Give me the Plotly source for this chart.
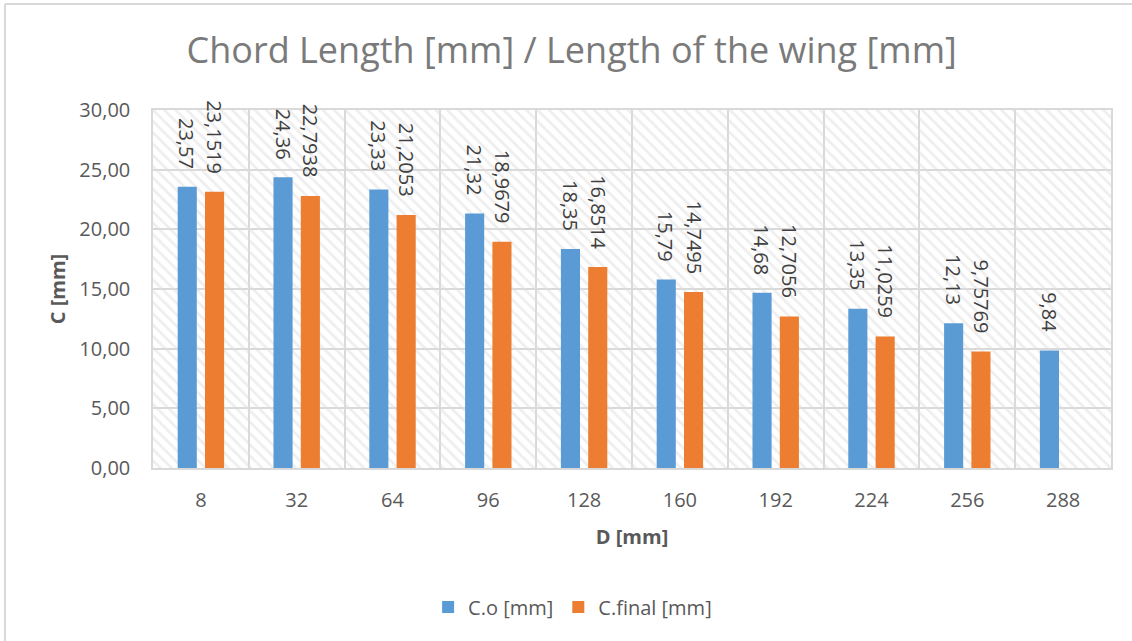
import plotly.graph_objects as go

# Span positions along the wing, D [mm]
d_mm = ["8", "32", "64", "96", "128", "160", "192", "224", "256", "288"]
# Initial chord length C.o [mm]
c_o = [23.57, 24.36, 23.33, 21.32, 18.35, 15.79, 14.68, 13.35, 12.13, 9.84]
# Final chord length C.final [mm] (no value at 288)
c_final = [23.1519, 22.7938, 21.2053, 18.9679, 16.8514, 14.7495, 12.7056, 11.0259, 9.75769, None]

Y_MAX = 30
BLUE = "#5B9BD5"
ORANGE = "#ED7D31"
FONT = "Open Sans"
BARGAP = 0.43
BARGROUPGAP = 0.3


def fmt(v):
    return f"{v:g}".replace(".", ",")


fig = go.Figure()

# hatched plot-area fill, drawn underneath the data bars
fig.add_trace(go.Bar(
    x=[0.5], y=[Y_MAX], width=[1], xaxis="x", yaxis="y",
    marker=dict(color="rgba(0,0,0,0)", line=dict(width=0),
                pattern=dict(shape="\\", fgcolor="#dedede", bgcolor="rgba(0,0,0,0)",
                             size=8, solidity=0.35)),
    showlegend=False, hoverinfo="skip",
))

fig.add_trace(go.Bar(name="C.o [mm]", x=d_mm, y=c_o, xaxis="x2", yaxis="y",
                     marker=dict(color=BLUE, line=dict(width=0))))
fig.add_trace(go.Bar(name="C.final [mm]", x=d_mm, y=c_final, xaxis="x2", yaxis="y",
                     marker=dict(color=ORANGE, line=dict(width=0))))

# rotated value labels above each bar
offset = (1 - BARGAP) / 4
annotations = []
for i, (a, b) in enumerate(zip(c_o, c_final)):
    for val, dx in ((a, -offset), (b, offset)):
        if val is None:
            continue
        annotations.append(dict(
            x=i + dx, y=val, xref="x2", yref="y", text=fmt(val),
            textangle=90, showarrow=False, yanchor="bottom", xanchor="center",
            yshift=16, font=dict(family=FONT, size=20, color="#404040"),
        ))

fig.update_layout(
    width=1132, height=641,
    margin=dict(l=153, r=21, t=110, b=173, autoexpand=False),
    paper_bgcolor="white", plot_bgcolor="white",
    separators=", ",
    barmode="group", bargap=BARGAP, bargroupgap=BARGROUPGAP,
    font=dict(family=FONT, color="#595959", size=20),
    title=dict(text="Chord Length [mm] / Length of the wing [mm]",
               font=dict(family=FONT, size=36, color="#7a7a7a"),
               x=0.505, xref="container", xanchor="center",
               y=1 - 50 / 641, yref="container", yanchor="middle"),
    xaxis=dict(range=[0, 1], visible=False, fixedrange=True),
    xaxis2=dict(overlaying="x", side="bottom", type="category",
                tickson="boundaries", showgrid=True, gridcolor="#d9d9d9", gridwidth=1.5,
                showline=True, linecolor="#d9d9d9", linewidth=1.5, mirror=True,
                ticks="", ticklabelstandoff=13,
                tickfont=dict(family=FONT, size=20, color="#595959"),
                title=dict(text="<b>D [mm]</b>", standoff=18,
                           font=dict(family=FONT, size=20, color="#595959"))),
    yaxis=dict(range=[0, Y_MAX], dtick=5, tickformat=".2f",
               showgrid=True, gridcolor="#d9d9d9", gridwidth=1.5,
               showline=True, linecolor="#d9d9d9", linewidth=1.5, mirror=True,
               zeroline=False, ticks="", ticklabelstandoff=17,
               tickfont=dict(family=FONT, size=20, color="#595959"),
               title=dict(text="<b>C [mm]</b>", standoff=8,
                          font=dict(family=FONT, size=20, color="#595959"))),
    legend=dict(orientation="h", x=0.438, y=-0.388, xanchor="center", yanchor="middle",
                font=dict(family=FONT, size=20, color="#595959"),
                bgcolor="rgba(0,0,0,0)", traceorder="normal"),
    annotations=annotations,
    shapes=[
        # chart frame: top and left edges
        dict(type="line", xref="paper", yref="paper",
             x0=(5 - 153) / 958, x1=(1140 - 153) / 958,
             y0=(468 - 4) / 358, y1=(468 - 4) / 358,
             line=dict(color="#d9d9d9", width=2)),
        dict(type="line", xref="paper", yref="paper",
             x0=(5 - 153) / 958, x1=(5 - 153) / 958,
             y0=(468 - 4) / 358, y1=(468 - 650) / 358,
             line=dict(color="#d9d9d9", width=2)),
    ],
)

fig.write_html("out.html")
